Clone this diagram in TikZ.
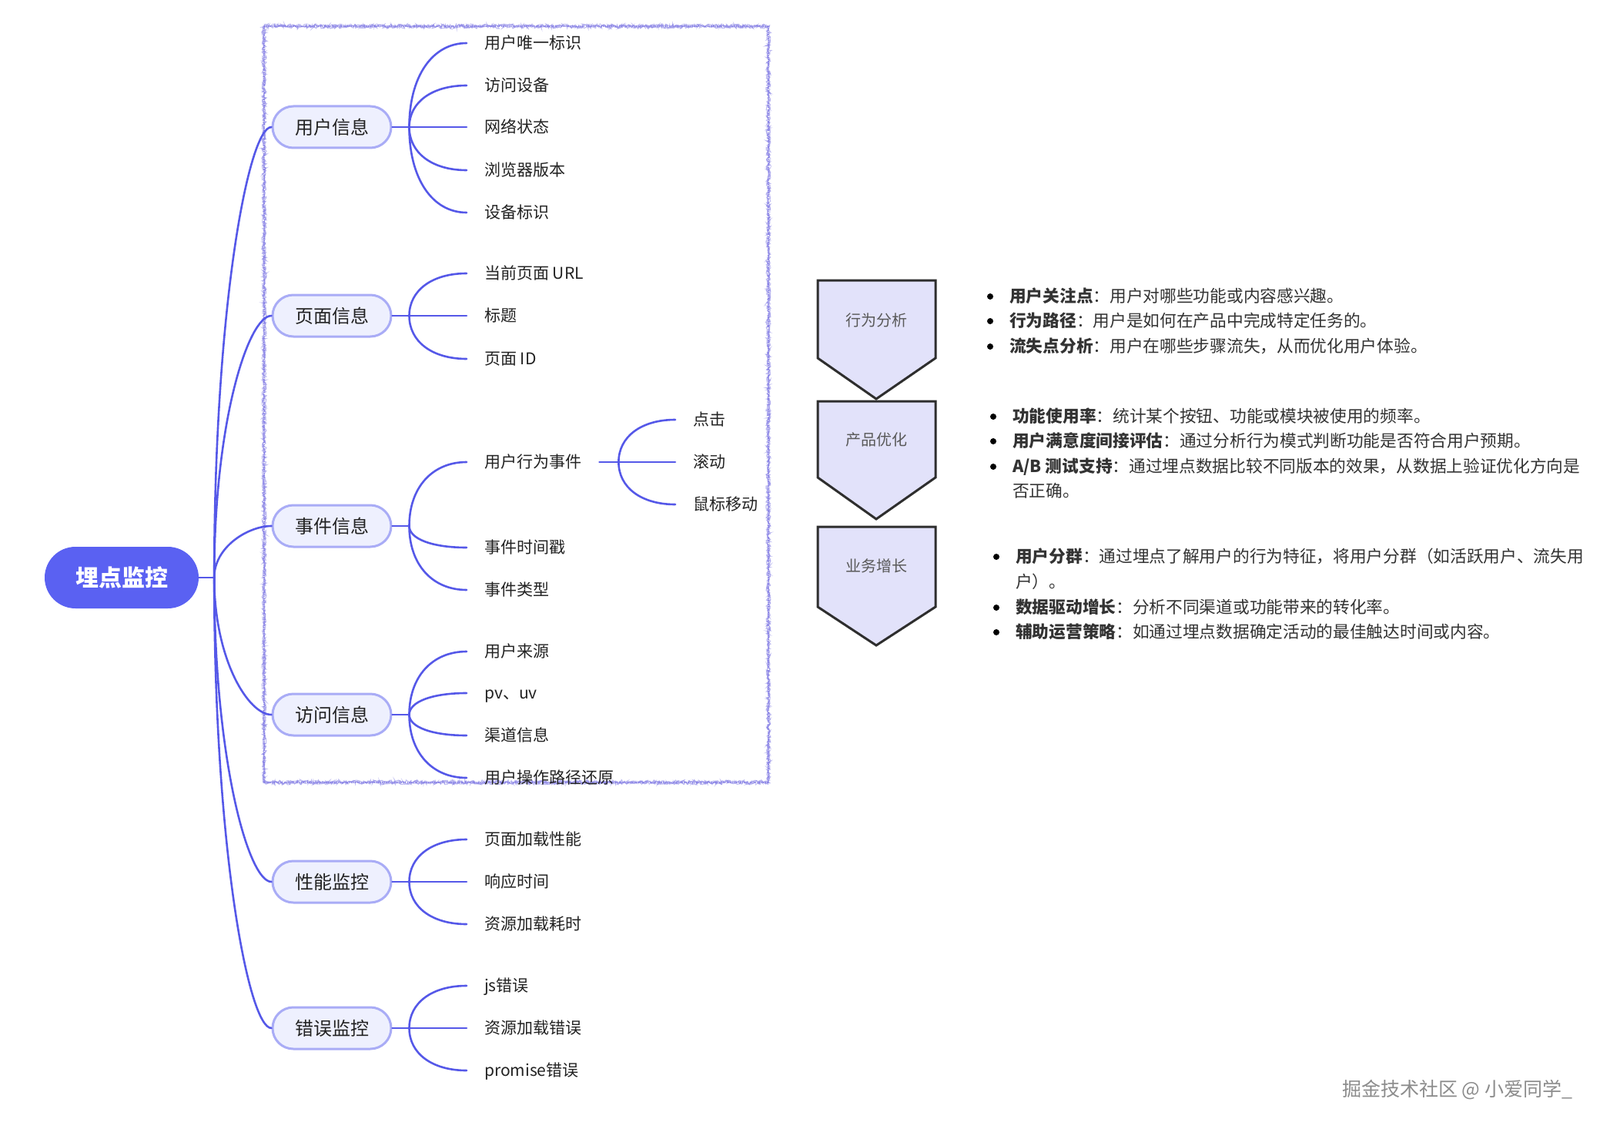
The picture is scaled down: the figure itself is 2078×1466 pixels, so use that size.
\documentclass[tikz,border=0pt]{standalone}
\usepackage{fontspec}
\setmainfont{Noto Sans CJK SC}
\usetikzlibrary{calc,decorations.pathmorphing}
\definecolor{lineC}{HTML}{5558E8}
\definecolor{rootC}{HTML}{5A61F2}
\definecolor{lonebd}{HTML}{A9ACF6}
\definecolor{lonefill}{HTML}{EEF0FE}
\definecolor{boxC}{HTML}{7F78E4}
\definecolor{pentFill}{HTML}{E2E2FA}
\definecolor{pentLine}{HTML}{2E2E2E}
\definecolor{txt}{HTML}{222222}
\definecolor{btx}{HTML}{333333}
\newcommand\curv[4]{%
  \draw[branch] let \p1=(#1), \p2=(#2) in (\p1) .. controls (\x1,{(\y1)+#3*((\y2)-(\y1))}) and ({(\x2)-#4*((\x2)-(\x1))},\y2) .. (\p2);}
\tikzset{
  branch/.style={draw=lineC, line width=2.6pt, line cap=round},
  fuzz/.style={boxC, opacity=0.5, line width=1.1pt, decorate, decoration={random steps, segment length=1.5pt, amplitude=2.6pt}},
  rootnode/.style={fill=rootC, rounded corners=40pt, minimum width=200pt, minimum height=80pt, inner sep=0pt, text=white, font=\fontsize{30}{34}\selectfont\bfseries},
  lone/.style={draw=lonebd, fill=lonefill, line width=3pt, rounded corners=27pt, minimum width=154pt, minimum height=54pt, inner sep=0pt, font=\fontsize{24}{28}\selectfont, text=txt},
  leaf/.style={anchor=west, inner xsep=23pt, inner ysep=0pt, text height=18pt, text depth=3pt, font=\fontsize{21}{25}\selectfont, text=txt},
  pent/.style={draw=pentLine, fill=pentFill, line width=3pt, line join=miter},
  ptxt/.style={font=\fontsize{20}{24}\selectfont, text=black!65},
  bdot/.style={circle, fill=black, inner sep=0pt, minimum size=8pt},
  btxt/.style={anchor=west, inner sep=0pt, text height=18pt, text depth=3pt, font=\fontsize{21.7}{26}\selectfont, text=btx},
}
\begin{document}
\begin{tikzpicture}[x=1pt,y=-1pt]
\useasboundingbox (0,0) rectangle (2078,1466);
\fill[white] (0,0) rectangle (2078,1466);

% fuzzy dashed frame
\draw[boxC!75, line width=2pt, dash pattern=on 1pt off 1.5pt] (343,34) rectangle (998,1016);
\draw[fuzz] (343,34) rectangle (998,1016);
\draw[fuzz] (343.5,34.5) rectangle (997.5,1015.5);
\draw[fuzz, line width=0.8pt] (342.5,33.5) rectangle (998.5,1016.5);

% root
\node[rootnode] (root) at (158,750) {埋点监控};
\coordinate (rJ) at ($(root.east)+(20,0)$);

% level 1
\node[lone] (u) at (431,165) {用户信息};
\node[lone] (p) at (431,410) {页面信息};
\node[lone] (e) at (431,683) {事件信息};
\node[lone] (v) at (431,928) {访问信息};
\node[lone] (f) at (431,1145) {性能监控};
\node[lone] (r) at (431,1335) {错误监控};

% leaves
\node[leaf] (u1) at (606,56) {用户唯一标识};
\node[leaf] (u2) at (606,111) {访问设备};
\node[leaf] (u3) at (606,165) {网络状态};
\node[leaf] (u4) at (606,221) {浏览器版本};
\node[leaf] (u5) at (606,276) {设备标识};

\node[leaf] (p1) at (606,355) {当前页面 URL};
\node[leaf] (p2) at (606,410) {标题};
\node[leaf] (p3) at (606,466) {页面 ID};

\node[leaf] (e1) at (606,600) {用户行为事件};
\node[leaf] (e2) at (606,711) {事件时间戳};
\node[leaf] (e3) at (606,766) {事件类型};

\node[leaf] (s1) at (877,545) {点击};
\node[leaf] (s2) at (877,600) {滚动};
\node[leaf] (s3) at (877,655) {鼠标移动};

\node[leaf] (v1) at (606,846) {用户来源};
\node[leaf] (v2) at (606,900) {pv、uv};
\node[leaf] (v3) at (606,955) {渠道信息};
\node[leaf] (v4) at (606,1010) {用户操作路径还原};

\node[leaf] (f1) at (606,1090) {页面加载性能};
\node[leaf] (f2) at (606,1145) {响应时间};
\node[leaf] (f3) at (606,1200) {资源加载耗时};

\node[leaf] (r1) at (606,1280) {js错误};
\node[leaf] (r2) at (606,1335) {资源加载错误};
\node[leaf] (r3) at (606,1390) {promise错误};

% trunk
\draw[branch] (root.east) -- (rJ);
\foreach \nd in {u,p,e,v,f,r} {\curv{rJ}{\nd.west}{0.6}{0.4}}

% level-2 branches
\foreach \nd/\kids in {u/{u1,u2,u3,u4,u5}, p/{p1,p2,p3}, e/{e1,e2,e3}, v/{v1,v2,v3,v4}, f/{f1,f2,f3}, r/{r1,r2,r3}} {
  \coordinate (\nd J) at ($(\nd.east)+(22,0)$);
  \draw[branch] (\nd.east) -- (\nd J);
  \foreach \k in \kids {\curv{\nd J}{\k.west}{0.6}{0.6}}
}
\coordinate (eJJ) at ($(e1.east)+(25,0)$);
\draw[branch] (e1.east) -- (eJJ);
\foreach \k in {s1,s2,s3} {\curv{eJJ}{\k.west}{0.6}{0.6}}

% pentagons
\draw[pent] (1062,364) -- (1215,364) -- (1215,465) -- (1138,518) -- (1062,465) -- cycle;
\draw[pent] (1062,521) -- (1215,521) -- (1215,620) -- (1138,674) -- (1062,620) -- cycle;
\draw[pent] (1062,684) -- (1215,684) -- (1215,788) -- (1138,838) -- (1062,788) -- cycle;
\node[ptxt] (q1) at (1138,416) {行为分析};
\node[ptxt] (q2) at (1138,571) {产品优化};
\node[ptxt] (q3) at (1138,735) {业务增长};

% bullets group 1
\node[bdot] (d11) at (1286,385) {};
\node[btxt] (t11) at (1311,385) {\textbf{用户关注点}：用户对哪些功能或内容感兴趣。};
\node[bdot] (d12) at (1286,417) {};
\node[btxt] (t12) at (1311,417) {\textbf{行为路径}：用户是如何在产品中完成特定任务的。};
\node[bdot] (d13) at (1286,450) {};
\node[btxt] (t13) at (1311,450) {\textbf{流失点分析}：用户在哪些步骤流失，从而优化用户体验。};

% bullets group 2
\node[bdot] (d21) at (1290,541) {};
\node[btxt] (t21) at (1315,541) {\textbf{功能使用率}：统计某个按钮、功能或模块被使用的频率。};
\node[bdot] (d22) at (1290,573) {};
\node[btxt] (t22) at (1315,573) {\textbf{用户满意度间接评估}：通过分析行为模式判断功能是否符合用户预期。};
\node[bdot] (d23) at (1290,606) {};
\node[btxt] (t23) at (1315,606) {\textbf{A/B 测试支持}：通过埋点数据比较不同版本的效果，从数据上验证优化方向是};
\node[btxt] (t24) at (1315,638) {否正确。};

% bullets group 3
\node[bdot] (d31) at (1294,723) {};
\node[btxt] (t31) at (1319,723) {\textbf{用户分群}：通过埋点了解用户的行为特征，将用户分群（如活跃用户、流失用};
\node[btxt] (t32) at (1319,756) {户）。};
\node[bdot] (d33) at (1294,789) {};
\node[btxt] (t33) at (1319,789) {\textbf{数据驱动增长}：分析不同渠道或功能带来的转化率。};
\node[bdot] (d34) at (1294,821) {};
\node[btxt] (t34) at (1319,821) {\textbf{辅助运营策略}：如通过埋点数据确定活动的最佳触达时间或内容。};

% watermark
\node[anchor=west, inner sep=0pt, font=\fontsize{25}{29}\selectfont, text=black!45] (wm) at (1743,1415) {掘金技术社区 @ 小爱同学\_};
\end{tikzpicture}
\end{document}
